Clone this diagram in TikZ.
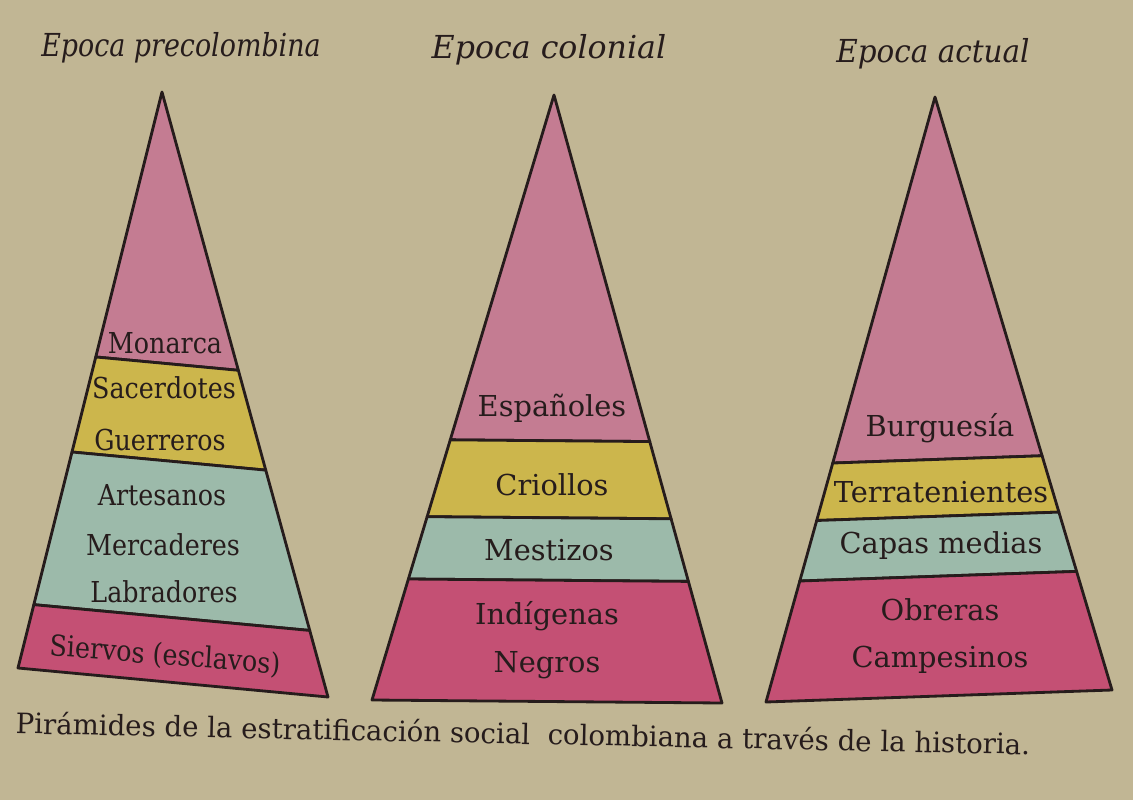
\documentclass[tikz,border=0pt]{standalone}
\usepackage{fontspec}
\setmainfont{DejaVu Serif}
\usetikzlibrary{calc,positioning}
\definecolor{cPaper}{RGB}{193,182,148}
\definecolor{cPink}{RGB}{196,124,146}
\definecolor{cRose}{RGB}{196,80,116}
\definecolor{cYellow}{RGB}{204,182,76}
\definecolor{cTeal}{RGB}{156,186,170}
\definecolor{cInk}{RGB}{38,28,28}
\tikzset{
  band/.style={draw=cInk,line width=0.8pt,line join=round},
  lbl/.style={font=\fontsize{8.2}{10}\selectfont,text=cInk,inner sep=1pt},
  narrow/.style={lbl,xscale=0.88},
  ttl/.style={font=\fontsize{9}{11}\selectfont\itshape,text=cInk,inner sep=1pt},
  capt/.style={font=\fontsize{8}{10}\selectfont,text=cInk,inner sep=1pt}
}
% one band of a pyramid: #1 prefix, #2 top, #3 bottom, #4 colour
\newcommand{\pyrband}[4]{%
  \filldraw[band,fill=#4] ($(#1a)!#2!(#1l)$) -- ($(#1a)!#3!(#1l)$)
    -- ($(#1a)!#3!(#1r)$) -- ($(#1a)!#2!(#1r)$) -- cycle;}

\begin{document}
\begin{tikzpicture}[x=0.01cm,y=-0.01cm]

  \fill[cPaper] (0,0) rectangle (1133,800);
  \useasboundingbox (0,0) rectangle (1133,800);

  % corners of the three pyramids
  \coordinate (pa) at (162,92);  \coordinate (pl) at (18,668);  \coordinate (pr) at (328,697);
  \coordinate (ca) at (554,95);  \coordinate (cl) at (372,700); \coordinate (cr) at (722,703);
  \coordinate (aa) at (935,97);  \coordinate (al) at (766,702); \coordinate (ar) at (1112,690);

  \pyrband{p}{0}{0.46}{cPink}
  \pyrband{p}{0.46}{0.625}{cYellow}
  \pyrband{p}{0.625}{0.89}{cTeal}
  \pyrband{p}{0.89}{1}{cRose}

  \pyrband{c}{0}{0.57}{cPink}
  \pyrband{c}{0.57}{0.697}{cYellow}
  \pyrband{c}{0.697}{0.80}{cTeal}
  \pyrband{c}{0.80}{1}{cRose}

  \pyrband{a}{0}{0.605}{cPink}
  \pyrband{a}{0.605}{0.70}{cYellow}
  \pyrband{a}{0.70}{0.80}{cTeal}
  \pyrband{a}{0.80}{1}{cRose}

  % titles
  \node[ttl,xscale=0.85] (tpre) at (181,48) {Epoca precolombina};
  \node[ttl] (tcol) at (549,50) {Epoca colonial};
  \node[ttl,xscale=0.93] (tact) at (933,54) {Epoca actual};

  % precolombina
  \node[narrow] (mon) at (165,343) {Monarca};
  \node[narrow] (sac) at (164,388) {Sacerdotes};
  \node[narrow] (gue) at (160,440) {Guerreros};
  \node[narrow] (art) at (162,495) {Artesanos};
  \node[narrow] (mer) at (163,545) {Mercaderes};
  \node[narrow] (lab) at (164,592) {Labradores};
  \node[narrow,rotate=-4] (sie) at (165,656) {Siervos (esclavos)};

  % colonial
  \node[lbl] (esp) at (552,408) {Españoles};
  \node[lbl] (cri) at (552,485) {Criollos};
  \node[lbl] (mes) at (549,550) {Mestizos};
  \node[lbl] (ind) at (547,616) {Indígenas};
  \node[lbl] (neg) at (547,665) {Negros};

  % actual
  \node[lbl] (bur) at (940,428) {Burguesía};
  \node[lbl] (ter) at (941,492) {Terratenientes};
  \node[lbl] (cap) at (941,546) {Capas medias};
  \node[lbl] (obr) at (940,610) {Obreras};
  \node[lbl] (cam) at (940,660) {Campesinos};

  \node[capt,rotate=-1.2,xscale=0.98] (cpt) at (523,733)
      {Pirámides de la estratificación social\ \ colombiana a través de la historia.};

\end{tikzpicture}
\end{document}
